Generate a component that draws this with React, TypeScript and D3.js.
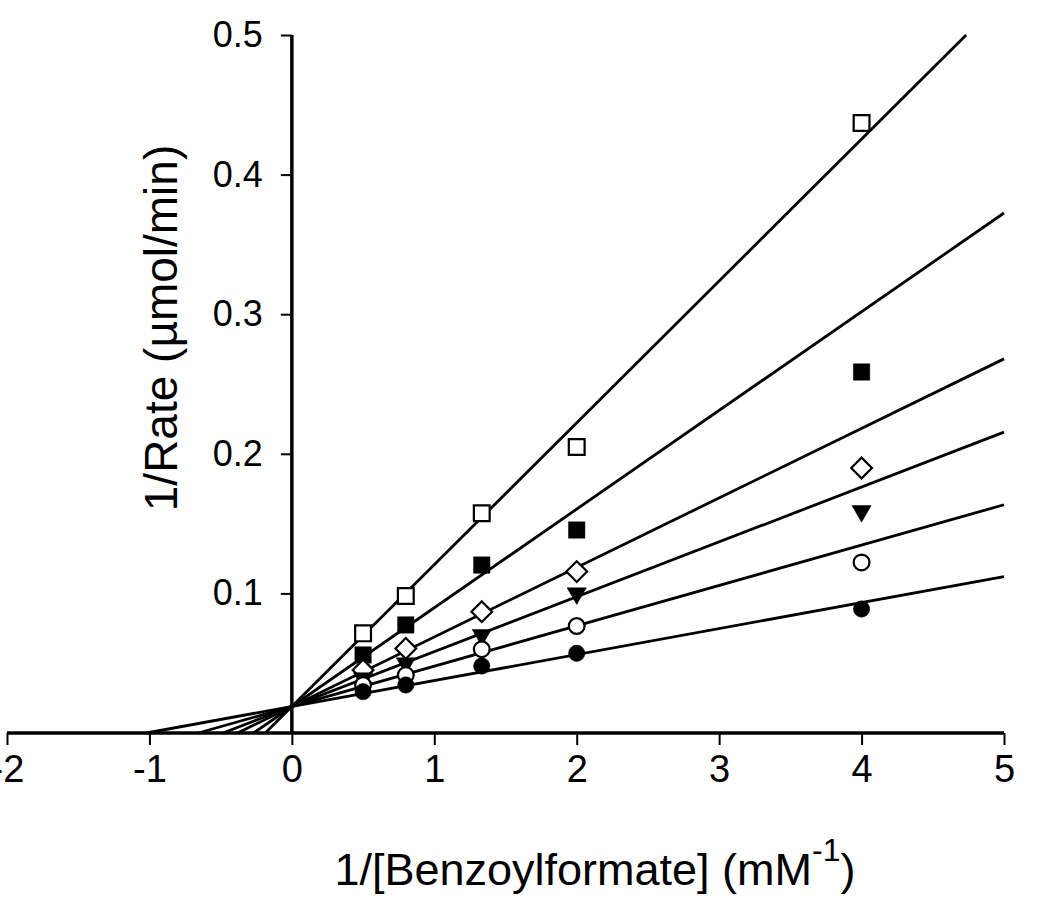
import React, { useEffect, useRef } from "react";
import * as d3 from "d3";

// x positions: 1/[Benzoylformate] (mM^-1)
const substrateInv = [0.5, 0.8, 1.3333, 2, 4];

// series values: 1/Rate
const openSquare = [0.0714, 0.0981, 0.1574, 0.2049, 0.437];
const filledSquare = [0.0559, 0.0774, 0.1203, 0.1454, 0.2586];
const openDiamond = [0.0451, 0.0606, 0.0869, 0.1156, 0.1898];
const filledTriangle = [0.0392, 0.0499, 0.0702, 0.1, 0.159];
const openCircle = [0.0344, 0.0415, 0.06, 0.0766, 0.1222];
const filledCircle = [0.0296, 0.0344, 0.048, 0.0571, 0.0888];

// fitted lines: common y-intercept and slopes
const fitIntercept = 0.019;
const fitSlopes = [0.1016, 0.0707, 0.0498, 0.0393, 0.0289, 0.0186];

const xTicks = [-2, -1, 0, 1, 2, 3, 4, 5];
const yTicks = [0.1, 0.2, 0.3, 0.4, 0.5];

const W = 1050;
const H = 902;

type Series = { values: number[]; shape: string; filled: boolean };
const series: Series[] = [
  { values: openSquare, shape: "square", filled: false },
  { values: filledSquare, shape: "square", filled: true },
  { values: openDiamond, shape: "diamond", filled: false },
  { values: filledTriangle, shape: "triangle", filled: true },
  { values: openCircle, shape: "circle", filled: false },
  { values: filledCircle, shape: "circle", filled: true },
];

export default function App() {
  const ref = useRef<SVGSVGElement>(null);

  useEffect(() => {
    const svg = d3.select(ref.current);
    svg.selectAll("*").remove();

    const x = d3.scaleLinear().domain([-2, 5]).range([7, 1004]);
    const y = d3.scaleLinear().domain([0, 0.5]).range([733, 35]);
    const font = "Liberation Sans, Arial, Helvetica, sans-serif";

    // fitted lines
    const lineGen = d3
      .line<[number, number]>()
      .x((d) => x(d[0]))
      .y((d) => y(d[1]));
    svg
      .append("g")
      .selectAll("path")
      .data(fitSlopes)
      .join("path")
      .attr("d", (m) => {
        const x0 = -fitIntercept / m;
        const x1 = Math.min(5, (0.5 - fitIntercept) / m);
        return lineGen([
          [x0, 0],
          [x1, fitIntercept + m * x1],
        ]);
      })
      .attr("fill", "none")
      .attr("stroke", "#000")
      .attr("stroke-width", 2.8);

    // x axis
    const xAxis = d3
      .axisBottom(x)
      .tickValues(xTicks)
      .tickSize(12)
      .tickPadding(10)
      .tickFormat((d) => String(d));
    const gx = svg.append("g").attr("transform", `translate(0,${y(0)})`).call(xAxis);
    gx.select(".domain").attr("stroke", "#000").attr("stroke-width", 3.5).attr("d", `M${x(-2)},0H${x(5)}`);
    gx.selectAll(".tick line").attr("stroke", "#000").attr("stroke-width", 2);
    gx.selectAll(".tick text")
      .attr("font-family", font)
      .attr("font-size", 38)
      .attr("fill", "#000");

    // y axis
    const yAxis = d3
      .axisLeft(y)
      .tickValues(yTicks)
      .tickSize(11)
      .tickPadding(18)
      .tickFormat((d) => d3.format(".1f")(d as number));
    const gy = svg.append("g").attr("transform", `translate(${x(0)},0)`).call(yAxis);
    gy.select(".domain").attr("stroke", "#000").attr("stroke-width", 3.5).attr("d", `M0,${y(0.5)}V${y(0)}`);
    gy.selectAll(".tick line").attr("stroke", "#000").attr("stroke-width", 2);
    gy.selectAll(".tick text")
      .attr("font-family", font)
      .attr("font-size", 36)
      .attr("fill", "#000");

    // markers
    const symFor = (s: string, filled: boolean) => {
      if (s === "square") return d3.symbol(d3.symbolSquare, filled ? 270 : 250);
      if (s === "diamond") return d3.symbol(d3.symbolSquare, 215);
      if (s === "triangle") return d3.symbol(d3.symbolTriangle, 160);
      return d3.symbol(d3.symbolCircle, filled ? 210 : 195);
    };
    const rotFor = (s: string) => (s === "diamond" ? 45 : s === "triangle" ? 180 : 0);

    series.forEach((ser) => {
      svg
        .append("g")
        .selectAll("path")
        .data(ser.values)
        .join("path")
        .attr("d", symFor(ser.shape, ser.filled)() as string)
        .attr(
          "transform",
          (v, i) => `translate(${x(substrateInv[i])},${y(v)}) rotate(${rotFor(ser.shape)})`
        )
        .attr("fill", ser.filled ? "#000" : "#fff")
        .attr("stroke", "#000")
        .attr("stroke-width", ser.filled ? 0.5 : 2.2);
    });

    // axis titles
    const xt = svg
      .append("text")
      .attr("x", 595)
      .attr("y", 885)
      .attr("text-anchor", "middle")
      .attr("font-family", font)
      .attr("font-size", 45)
      .attr("fill", "#000");
    xt.append("tspan").text("1/[Benzoylformate] (mM");
    xt.append("tspan").attr("font-size", 32).attr("dy", -24).text("-1");
    xt.append("tspan").attr("dy", 24).text(")");

    svg
      .append("text")
      .attr("transform", `translate(177,328) rotate(-90)`)
      .attr("text-anchor", "middle")
      .attr("font-family", font)
      .attr("font-size", 46)
      .attr("fill", "#000")
      .text("1/Rate (µmol/min)");
  }, []);

  return (
    <svg
      ref={ref}
      width={W}
      height={H}
      viewBox={`0 0 ${W} ${H}`}
      style={{ position: "absolute", left: 0, top: 0, background: "#fff", display: "block" }}
    />
  );
}
